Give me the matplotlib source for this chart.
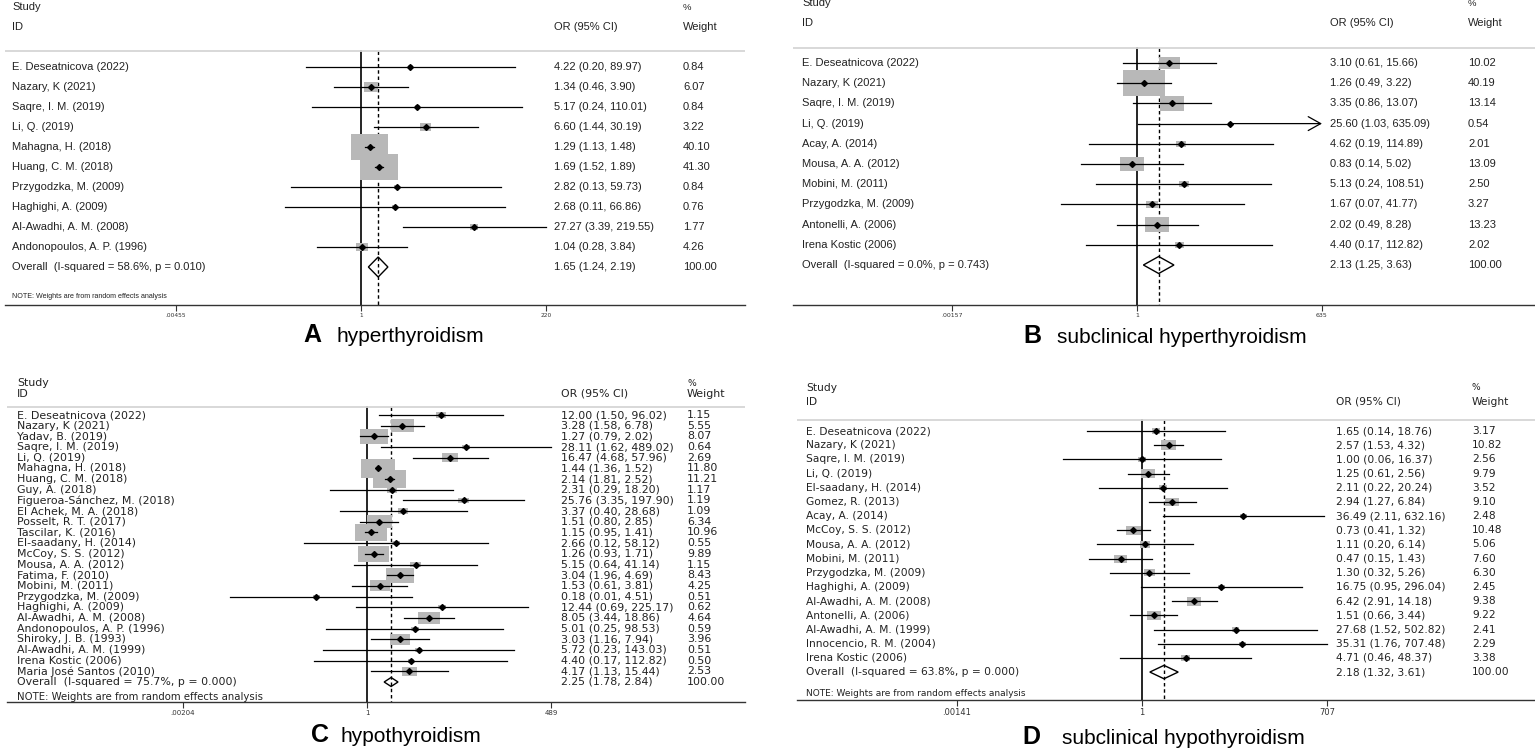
import numpy as np
import matplotlib
matplotlib.use("Agg")
import matplotlib.pyplot as plt
from matplotlib.patches import Rectangle, Polygon
from matplotlib.transforms import blended_transform_factory
from matplotlib.ticker import NullLocator

# ---------------- data ----------------
# Panel A: hyperthyroidism
studies_A = ["E. Deseatnicova (2022)", "Nazary, K (2021)", "Saqre, I. M. (2019)", "Li, Q. (2019)",
             "Mahagna, H. (2018)", "Huang, C. M. (2018)", "Przygodzka, M. (2009)", "Haghighi, A. (2009)",
             "Al-Awadhi, A. M. (2008)", "Andonopoulos, A. P. (1996)"]
or_A = [4.22, 1.34, 5.17, 6.60, 1.29, 1.69, 2.82, 2.68, 27.27, 1.04]
lo_A = [0.20, 0.46, 0.24, 1.44, 1.13, 1.52, 0.13, 0.11, 3.39, 0.28]
hi_A = [89.97, 3.90, 110.01, 30.19, 1.48, 1.89, 59.73, 66.86, 219.55, 3.84]
w_A = [0.84, 6.07, 0.84, 3.22, 40.10, 41.30, 0.84, 0.76, 1.77, 4.26]
overall_A = [1.65, 1.24, 2.19]
het_A = "Overall  (I-squared = 58.6%, p = 0.010)"
ticks_A = [0.00455, 1, 220]
ticklabels_A = [".00455", "1", "220"]

# Panel B: subclinical hyperthyroidism
studies_B = ["E. Deseatnicova (2022)", "Nazary, K (2021)", "Saqre, I. M. (2019)", "Li, Q. (2019)",
             "Acay, A. (2014)", "Mousa, A. A. (2012)", "Mobini, M. (2011)", "Przygodzka, M. (2009)",
             "Antonelli, A. (2006)", "Irena Kostic (2006)"]
or_B = [3.10, 1.26, 3.35, 25.60, 4.62, 0.83, 5.13, 1.67, 2.02, 4.40]
lo_B = [0.61, 0.49, 0.86, 1.03, 0.19, 0.14, 0.24, 0.07, 0.49, 0.17]
hi_B = [15.66, 3.22, 13.07, 635.09, 114.89, 5.02, 108.51, 41.77, 8.28, 112.82]
w_B = [10.02, 40.19, 13.14, 0.54, 2.01, 13.09, 2.50, 3.27, 13.23, 2.02]
overall_B = [2.13, 1.25, 3.63]
het_B = "Overall  (I-squared = 0.0%, p = 0.743)"
ticks_B = [0.00157, 1, 635]
ticklabels_B = [".00157", "1", "635"]
arrows_B = ["Li, Q. (2019)"]

# Panel C: hypothyroidism
studies_C = ["E. Deseatnicova (2022)", "Nazary, K (2021)", "Yadav, B. (2019)", "Saqre, I. M. (2019)",
             "Li, Q. (2019)", "Mahagna, H. (2018)", "Huang, C. M. (2018)", "Guy, A. (2018)",
             "Figueroa-Sánchez, M. (2018)", "El Achek, M. A. (2018)", "Posselt, R. T. (2017)",
             "Tascilar, K. (2016)", "El-saadany, H. (2014)", "McCoy, S. S. (2012)", "Mousa, A. A. (2012)",
             "Fatima, F. (2010)", "Mobini, M. (2011)", "Przygodzka, M. (2009)", "Haghighi, A. (2009)",
             "Al-Awadhi, A. M. (2008)", "Andonopoulos, A. P. (1996)", "Shiroky, J. B. (1993)",
             "Al-Awadhi, A. M. (1999)", "Irena Kostic (2006)", "Maria José Santos (2010)"]
or_C = [12.00, 3.28, 1.27, 28.11, 16.47, 1.44, 2.14, 2.31, 25.76, 3.37, 1.51, 1.15, 2.66, 1.26, 5.15,
        3.04, 1.53, 0.18, 12.44, 8.05, 5.01, 3.03, 5.72, 4.40, 4.17]
lo_C = [1.50, 1.58, 0.79, 1.62, 4.68, 1.36, 1.81, 0.29, 3.35, 0.40, 0.80, 0.95, 0.12, 0.93, 0.64,
        1.96, 0.61, 0.01, 0.69, 3.44, 0.25, 1.16, 0.23, 0.17, 1.13]
hi_C = [96.02, 6.78, 2.02, 489.02, 57.96, 1.52, 2.52, 18.20, 197.90, 28.68, 2.85, 1.41, 58.12, 1.71,
        41.14, 4.69, 3.81, 4.51, 225.17, 18.86, 98.53, 7.94, 143.03, 112.82, 15.44]
w_C = [1.15, 5.55, 8.07, 0.64, 2.69, 11.80, 11.21, 1.17, 1.19, 1.09, 6.34, 10.96, 0.55, 9.89, 1.15,
       8.43, 4.25, 0.51, 0.62, 4.64, 0.59, 3.96, 0.51, 0.50, 2.53]
overall_C = [2.25, 1.78, 2.84]
het_C = "Overall  (I-squared = 75.7%, p = 0.000)"
ticks_C = [0.00204, 1, 489]
ticklabels_C = [".00204", "1", "489"]

# Panel D: subclinical hypothyroidism
studies_D = ["E. Deseatnicova (2022)", "Nazary, K (2021)", "Saqre, I. M. (2019)", "Li, Q. (2019)",
             "El-saadany, H. (2014)", "Gomez, R. (2013)", "Acay, A. (2014)", "McCoy, S. S. (2012)",
             "Mousa, A. A. (2012)", "Mobini, M. (2011)", "Przygodzka, M. (2009)", "Haghighi, A. (2009)",
             "Al-Awadhi, A. M. (2008)", "Antonelli, A. (2006)", "Al-Awadhi, A. M. (1999)",
             "Innocencio, R. M. (2004)", "Irena Kostic (2006)"]
or_D = [1.65, 2.57, 1.00, 1.25, 2.11, 2.94, 36.49, 0.73, 1.11, 0.47, 1.30, 16.75, 6.42, 1.51, 27.68,
        35.31, 4.71]
lo_D = [0.14, 1.53, 0.06, 0.61, 0.22, 1.27, 2.11, 0.41, 0.20, 0.15, 0.32, 0.95, 2.91, 0.66, 1.52,
        1.76, 0.46]
hi_D = [18.76, 4.32, 16.37, 2.56, 20.24, 6.84, 632.16, 1.32, 6.14, 1.43, 5.26, 296.04, 14.18, 3.44,
        502.82, 707.48, 48.37]
w_D = [3.17, 10.82, 2.56, 9.79, 3.52, 9.10, 2.48, 10.48, 5.06, 7.60, 6.30, 2.45, 9.38, 9.22, 2.41,
       2.29, 3.38]
overall_D = [2.18, 1.32, 3.61]
het_D = "Overall  (I-squared = 63.8%, p = 0.000)"
ticks_D = [0.00141, 1, 707]
ticklabels_D = [".00141", "1", "707"]

panel_letters = ["A", "B", "C", "D"]
panel_titles = ["hyperthyroidism", "subclinical hyperthyroidism", "hypothyroidism",
                "subclinical hypothyroidism"]
note_text = "NOTE: Weights are from random effects analysis"

# ---------------- drawing ----------------
W, H = 1535, 752
fig = plt.figure(figsize=(W / 100, H / 100), dpi=100)
fig.patch.set_facecolor("white")

TXT = "#222222"
BOX = "#b8b8b8"


def panel(names, ors, los, his, ws, ov, het, ticks, ticklabels, arrows, g):
    L, R, T, B = g["L"], g["R"], g["T"], g["B"]
    ax = fig.add_axes([L / W, 1 - B / H, (R - L) / W, (B - T) / H])
    ax.set_xscale("log")
    ppl = (g["tick_px"] - g["null_px"]) / np.log(ticks[-1])
    ax.set_xlim(np.exp((L - g["null_px"]) / ppl), np.exp((R - g["null_px"]) / ppl))
    row0, sp = g["row0"], g["sp"]

    def py(p):
        return (p - row0) / sp

    def px(p):
        return (p - L) / (R - L)

    ax.set_ylim(py(B), py(T))
    ax.set_facecolor("none")
    for s in ["top", "left", "right"]:
        ax.spines[s].set_visible(False)
    ax.spines["bottom"].set_color("#333333")
    ax.spines["bottom"].set_linewidth(1.0)
    ax.set_yticks([])
    ax.set_xticks(ticks)
    ax.set_xticklabels(ticklabels)
    ax.xaxis.set_minor_locator(NullLocator())
    ax.tick_params(axis="x", direction="out", length=4, width=0.8, pad=2,
                   labelsize=g["tick_fs"], colors="#333333")
    tr = blended_transform_factory(ax.transAxes, ax.transData)
    fam = g["font"]
    fs = g["fs"]

    # header
    ax.axhline(py(g["hline"]), color="#d6d6d6", lw=1.3)
    ax.text(px(g["name_x"]), py(g["study_y"]), "Study", transform=tr, ha="left", va="center",
            fontsize=fs, family=fam, color=TXT)
    ax.text(px(g["name_x"]), py(g["id_y"]), "ID", transform=tr, ha="left", va="center",
            fontsize=fs, family=fam, color=TXT)
    ax.text(px(g["or_x"]), py(g["id_y"]), "OR (95% CI)", transform=tr, ha="left", va="center",
            fontsize=fs, family=fam, color=TXT)
    ax.text(px(g["w_x"]), py(g["study_y"]), "%", transform=tr, ha="left", va="center",
            fontsize=fs * 0.85, family=fam, color=TXT)
    ax.text(px(g["w_x"]), py(g["id_y"]), "Weight", transform=tr, ha="left", va="center",
            fontsize=fs, family=fam, color=TXT)

    # reference lines
    ax.plot([1, 1], [py(g["hline"]), py(B)], color="black", lw=1.2, zorder=1)
    ax.plot([ov[0], ov[0]], [py(g["hline"]), py(B)], color="black", lw=1.0,
            ls=(0, (2.5, 2)), zorder=1)

    tmax = ticks[-1]
    for i, (nm, o, lo, hi, w) in enumerate(zip(names, ors, los, his, ws)):
        hw = g["bw"] * np.sqrt(w) / 2 / ppl
        hh = g["bh"] * np.sqrt(w) / 2 / sp
        ax.add_patch(Rectangle((o * np.exp(-hw), i - hh), o * np.exp(hw) - o * np.exp(-hw), 2 * hh,
                               facecolor=BOX, edgecolor="none", zorder=2))
        if nm in arrows:
            ax.plot([lo, o], [i, i], color="black", lw=0.9, zorder=3)
            ax.annotate("", xy=(tmax, i), xytext=(o, i),
                        arrowprops=dict(arrowstyle="->,head_length=0.9,head_width=0.5",
                                        color="black", lw=0.9, shrinkA=0, shrinkB=0), zorder=3)
        else:
            ax.plot([lo, min(hi, tmax)], [i, i], color="black", lw=0.9, zorder=3)
        ax.plot([o], [i], marker="D", ms=3.0, color="black", zorder=4)
        ax.text(px(g["name_x"]), i, nm, transform=tr, ha="left", va="center", fontsize=fs,
                family=fam, color=TXT)
        ax.text(px(g["or_x"]), i, f"{o:.2f} ({lo:.2f}, {hi:.2f})", transform=tr, ha="left",
                va="center", fontsize=fs, family=fam, color=TXT)
        ax.text(px(g["w_x"]), i, f"{w:.2f}", transform=tr, ha="left", va="center", fontsize=fs,
                family=fam, color=TXT)

    n = len(names)
    dh = g["dh"] / sp
    ax.add_patch(Polygon([(ov[1], n), (ov[0], n - dh), (ov[2], n), (ov[0], n + dh)], closed=True,
                         fill=False, edgecolor="black", lw=1.0, zorder=4))
    ax.text(px(g["name_x"]), n, het, transform=tr, ha="left", va="center", fontsize=fs,
            family=fam, color=TXT)
    ax.text(px(g["or_x"]), n, f"{ov[0]:.2f} ({ov[1]:.2f}, {ov[2]:.2f})", transform=tr, ha="left",
            va="center", fontsize=fs, family=fam, color=TXT)
    ax.text(px(g["w_x"]), n, f"{100:.2f}", transform=tr, ha="left", va="center", fontsize=fs,
            family=fam, color=TXT)
    if g.get("note_y") is not None:
        ax.text(px(g["name_x"]), py(g["note_y"]), note_text, transform=tr, ha="left",
                va="center", fontsize=g["note_fs"], family=fam, color=TXT)
    return ax


gA = dict(L=5, R=745, T=0, B=305, null_px=361, tick_px=546, row0=67, sp=20.0, study_y=7, id_y=27,
          hline=51, name_x=12, or_x=554, w_x=683, note_y=296, note_fs=5.1, fs=8, tick_fs=4.2,
          font="Liberation Sans", bw=5.9, bh=4.0, dh=10)
gB = dict(L=793, R=1535, T=0, B=305, null_px=1137, tick_px=1322, row0=63, sp=20.2, study_y=3,
          id_y=23, hline=48, name_x=802, or_x=1330, w_x=1468, note_y=None, fs=8, tick_fs=4.5,
          font="Liberation Sans", bw=6.6, bh=4.1, dh=8.5)
gC = dict(L=7, R=745, T=370, B=702, null_px=367, tick_px=551, row0=415, sp=10.68, study_y=383,
          id_y=394, hline=407, name_x=17, or_x=561, w_x=687, note_y=697, note_fs=7.3, fs=7.9,
          tick_fs=5, font="DejaVu Sans", bw=9.8, bh=5.3, dh=4.5)
gD = dict(L=797, R=1535, T=370, B=700, null_px=1142, tick_px=1327, row0=431, sp=14.18, study_y=388,
          id_y=402, hline=420, name_x=806, or_x=1336, w_x=1472, note_y=693, note_fs=6.5, fs=7.7,
          tick_fs=6, font="DejaVu Sans", bw=4.6, bh=2.9, dh=6.7)

panel(studies_A, or_A, lo_A, hi_A, w_A, overall_A, het_A, ticks_A, ticklabels_A, [], gA)
panel(studies_B, or_B, lo_B, hi_B, w_B, overall_B, het_B, ticks_B, ticklabels_B, arrows_B, gB)
panel(studies_C, or_C, lo_C, hi_C, w_C, overall_C, het_C, ticks_C, ticklabels_C, [], gC)
panel(studies_D, or_D, lo_D, hi_D, w_D, overall_D, het_D, ticks_D, ticklabels_D, [], gD)

# panel titles
title_pos = [(303, 336, 342), (1023, 1057, 343), (311, 340, 742), (1022, 1062, 744)]
for (lx, tx, by), let, tt in zip(title_pos, panel_letters, panel_titles):
    fig.text(lx / W, 1 - by / H, let, fontsize=18, fontweight="bold", family="Liberation Sans",
             va="baseline", ha="left", color="black")
    fig.text(tx / W, 1 - by / H, tt, fontsize=15, family="Liberation Sans", va="baseline",
             ha="left", color="black")

fig.savefig("out.png", dpi=100, facecolor="white")
